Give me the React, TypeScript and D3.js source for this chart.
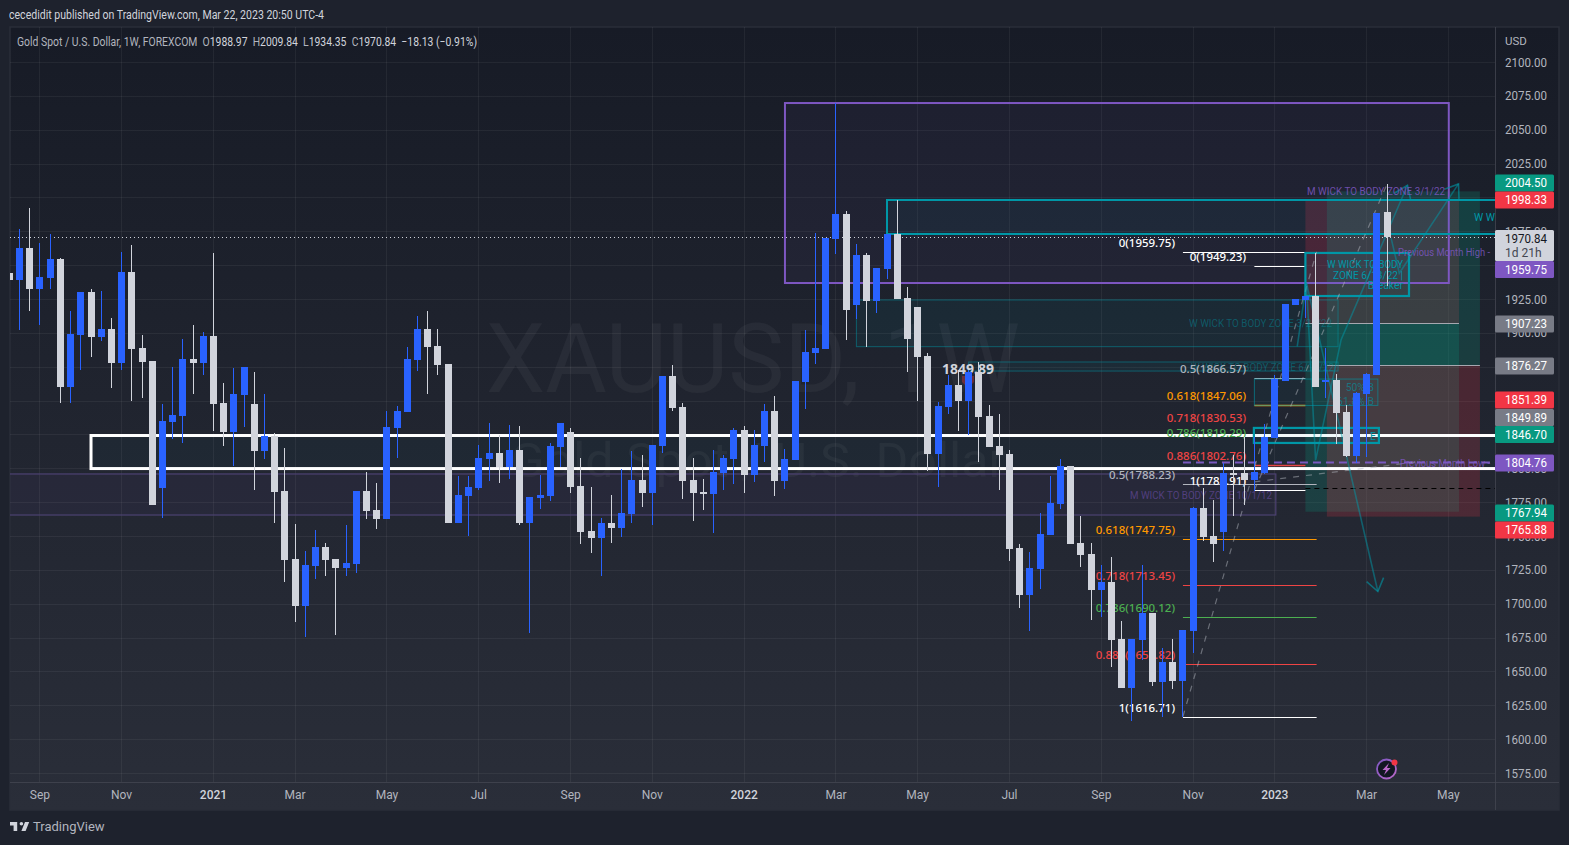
import React from "react";
import * as d3 from "d3";

const W = 1569, H = 845;
const FRAME = { l: 10, t: 27, r: 1559, b: 810 };
const PLOT = { l: 10, t: 27, r: 1495, b: 782 };
const FONT = "Roboto, 'Noto Sans', sans-serif";
const FIB_FONT = "'Noto Sans', Roboto, sans-serif";

// OHLC, one value per weekly bar; the first bar has index -1 and is cut by the left edge
const opens = [1944.0,1939.0,1962.7,1932.4,1940.5,1954.5,1860.0,1898.4,1930.2,1896.9,1902.9,1877.7,1944.9,1888.8,1879.2,1785.4,1834.2,1838.6,1880.7,1877.7,1897.7,1848.2,1826.8,1854.1,1847.5,1812.8,1823.8,1783.2,1733.0,1698.3,1727.9,1741.9,1733.0,1726.4,1729.3,1783.2,1769.2,1762.6,1829.8,1841.6,1880.0,1902.9,1890.3,1877.0,1759.6,1779.5,1785.4,1806.9,1811.3,1801.0,1813.5,1759.6,1778.1,1779.5,1815.7,1826.8,1786.9,1753.7,1748.5,1759.6,1755.9,1766.2,1791.4,1781.8,1816.5,1868.1,1845.3,1791.4,1782.5,1781.0,1796.5,1806.9,1828.3,1795.0,1816.5,1842.3,1790.6,1806.1,1863.7,1885.1,1888.1,1969.3,1987.8,1920.6,1957.5,1923.5,1947.2,1973.0,1925.7,1919.1,1882.9,1810.6,1845.3,1861.5,1849.7,1871.1,1838.6,1816.5,1810.6,1741.1,1706.4,1725.6,1750.7,1773.6,1801.7,1744.8,1736.7,1710.1,1716.0,1673.9,1637.8,1673.2,1693.1,1642.2,1657.0,1642.9,1679.9,1770.7,1750.0,1753.0,1796.5,1796.5,1791.3,1796.5,1822.4,1864.5,1920.6,1924.3,1927.2,1863.7,1865.2,1841.6,1809.1,1854.9,1868.9,1988.97];
const highs = [1944.0,1976.4,1992.2,1966.4,1973.0,1955.3,1916.1,1930.2,1932.4,1930.9,1911.0,1959.7,1964.9,1898.4,1879.2,1847.5,1874.8,1895.5,1905.8,1900.6,1959.0,1863.0,1874.1,1874.8,1871.1,1854.9,1826.1,1815.0,1758.9,1738.9,1754.4,1744.8,1733.0,1758.1,1783.2,1797.3,1789.1,1842.3,1846.0,1889.6,1912.5,1916.1,1902.9,1877.0,1794.3,1794.3,1817.2,1833.4,1824.6,1832.0,1831.2,1778.8,1795.0,1818.7,1833.4,1829.7,1807.6,1786.2,1763.3,1780.3,1799.5,1812.8,1809.8,1817.2,1868.1,1876.3,1848.2,1807.6,1792.1,1813.5,1809.8,1829.7,1831.2,1828.3,1847.5,1853.4,1814.2,1864.5,1902.1,1973.7,1970.0,2069.5,1990.0,1965.6,1959.0,1947.9,1973.0,1998.1,1933.9,1919.1,1885.1,1848.9,1868.9,1872.6,1872.6,1878.5,1846.7,1840.1,1813.5,1744.1,1738.2,1767.0,1794.3,1806.9,1801.7,1764.8,1744.8,1728.6,1734.5,1687.2,1673.9,1728.6,1693.1,1667.3,1673.9,1680.6,1771.4,1785.4,1776.6,1803.9,1809.8,1823.1,1823.1,1832.7,1868.9,1921.3,1925.0,1927.2,1959.0,1888.8,1869.6,1846.7,1856.3,1870.4,1988.5,2009.84];
const lows = [1939.0,1902.1,1916.1,1905.8,1932.4,1848.2,1848.2,1872.6,1882.2,1894.0,1859.3,1872.6,1849.7,1851.9,1772.9,1763.3,1821.6,1818.7,1854.9,1868.9,1827.5,1816.5,1801.7,1830.5,1784.0,1806.9,1759.6,1716.0,1686.5,1675.4,1718.3,1720.5,1676.9,1720.5,1722.7,1762.6,1755.2,1762.6,1807.6,1841.6,1871.8,1854.9,1868.9,1759.6,1759.6,1750.0,1784.0,1790.6,1789.1,1792.1,1758.1,1678.4,1769.9,1775.8,1801.0,1781.8,1744.1,1737.4,1720.4,1744.8,1749.3,1759.6,1771.4,1758.1,1811.3,1842.3,1777.3,1761.1,1769.2,1752.2,1784.0,1788.4,1781.8,1789.9,1804.6,1779.5,1784.7,1806.1,1843.8,1877.0,1888.1,1958.2,1894.7,1910.2,1889.6,1914.7,1939.8,1925.0,1871.1,1849.7,1798.0,1786.2,1840.1,1827.5,1824.6,1804.6,1815.7,1784.0,1731.5,1696.8,1679.9,1710.9,1750.7,1769.9,1744.1,1727.1,1688.0,1690.2,1653.3,1637.8,1613.4,1658.4,1639.2,1616.4,1637.0,1616.7,1663.6,1746.3,1730.8,1738.9,1764.8,1772.9,1783.2,1795.8,1822.4,1864.5,1920.6,1911.0,1860.0,1851.9,1817.9,1808.3,1803.9,1808.3,1868.9,1934.35];
const closes = [1939.0,1962.7,1932.4,1941.2,1954.5,1860.0,1899.2,1930.2,1896.9,1902.9,1877.7,1944.9,1888.1,1878.5,1772.9,1834.9,1839.4,1880.7,1877.7,1897.7,1847.5,1826.8,1854.9,1874.8,1812.8,1823.8,1782.5,1732.3,1698.3,1728.6,1741.9,1732.3,1726.4,1730.1,1783.2,1768.5,1762.6,1830.5,1842.3,1880.7,1902.9,1889.6,1876.3,1759.6,1780.3,1786.2,1807.6,1811.3,1801.0,1813.5,1759.6,1778.8,1780.3,1816.5,1833.4,1786.2,1753.0,1748.5,1759.6,1755.9,1767.0,1791.4,1781.8,1817.2,1868.1,1844.5,1790.6,1781.8,1781.0,1797.3,1807.6,1828.3,1795.0,1817.2,1842.3,1790.6,1806.9,1864.5,1885.9,1888.8,1970.0,1987.8,1916.9,1957.5,1923.5,1947.9,1973.0,1925.0,1895.5,1882.2,1810.6,1846.0,1861.5,1849.7,1871.1,1837.9,1815.7,1809.8,1740.4,1706.4,1726.4,1751.5,1774.4,1801.7,1744.1,1736.0,1710.1,1716.0,1673.2,1637.8,1673.9,1693.1,1642.2,1657.0,1642.9,1680.6,1770.7,1749.3,1744.1,1796.5,1795.0,1791.3,1797.3,1823.1,1865.9,1921.3,1925.0,1927.2,1860.0,1865.2,1840.8,1809.1,1855.6,1869.6,1988.5,1970.84];
const FIRST_BAR = -1;

const priceTicks = d3.range(1575, 2101, 25);
const timeTickBars = [2, 10, 19, 27, 36, 45, 54, 62, 71, 80, 88, 97, 106, 115, 123, 132, 140];
const timeTickLabels = ["Sep", "Nov", "2021", "Mar", "May", "Jul", "Sep", "Nov", "2022", "Mar", "May", "Jul", "Sep", "Nov", "2023", "Mar", "May"];

// Axis price tags, text and fill; their stacked positions live in tagCentres below
const tagTexts = ["2004.50", "1998.33", "1959.75", "1907.23", "1876.27", "1851.39", "1849.89", "1846.70", "1804.76", "1767.94", "1765.88"];
const tagColors = ["#089981", "#f23645", "#7e57c2", "#787b86", "#787b86", "#f23645", "#787b86", "#089981", "#7e57c2", "#089981", "#f23645"];
const tagCentres = [183, 200, 269.5, 324, 366, 400, 417.5, 434.5, 463, 513, 530];

// Zones: [bar0, bar1, priceTop, priceBottom]
const purpleZone = [75, 140.05, 2069.7, 1936.8];
const tealZone = [85, 150, 1998.1, 1973.0];
const thinZoneA = [82, 129.2, 1924.3, 1889.8];
const thinZoneB = [93, 129.2, 1878.5, 1871.8];
const fvgZoneB = [121, 133.1, 1865.9, 1846.4];
const fvgZoneE = [120.95, 133.2, 1829.8, 1818.7];
const breakerZone = [126, 136.15, 1959.0, 1927.2];
const whiteZone = [7, 150, 1824.2, 1799.8];
const lowPurpleZone = [-3, 123.1, 1795.8, 1765.5];

// Short position: bars, stop, entry, target. Long position: bars, target, entry, stop
const shortPos = [126, 141.05, 1998.33, 1907.23, 1767.94];
const longPos = [128.1, 143.1, 2004.5, 1876.27, 1764.3];

// Fibonacci tools
const fibLabelsA = ["0(1959.75)", "0.5(1788.23)", "0.618(1747.75)", "0.718(1713.45)", "0.786(1690.12)", "0.886(1655.82)", "1(1616.71)"];
const fibPricesA = [1959.75, 1788.23, 1747.75, 1713.45, 1690.12, 1655.82, 1616.71];
const fibLabelsB = ["0(1949.23)", "0.5(1866.57)", "0.618(1847.06)", "0.718(1830.53)", "0.786(1819.29)", "0.886(1802.76)", "1(1783.91)"];
const fibPricesB = [1949.23, 1866.57, 1847.06, 1830.53, 1819.29, 1802.76, 1783.91];
const fibColors = ["#ffffff", "#b2b5be", "#ff9800", "#ef4444", "#4caf50", "#ef4444", "#ffffff"];
const fibBarsA = [114, 127.1];
const fibBarsB = [121, 126];

// Trend lines as [bar, price] points
const dashA = [[114, 1616.71], [127.1, 1959.75]];
const dashB = [[121, 1783.91], [134, 2009.84]];
const dashC = [[121, 1790], [137, 1804.76]];
const pathA = [[125.2, 1890], [126.1, 1936.8], [127, 1806], [129.5, 1895], [136, 2009]];
const pathB = [[134.4, 1970], [135.2, 1944], [141, 2010]];
const pathC = [[126.1, 1936.8], [133.1, 1709]];

const logoPaths = ["M14 6H2v6h6v9h6V6zm14 15h-7l6-15h7l-6 15zm-7-9a3 3 0 1 0 0-6 3 3 0 0 0 0 6z"];

export default function App() {
  const xBar = d3.scaleLinear().domain([0, 134]).range([19.58, 1387.05]);
  const y = d3.scaleLinear().domain([2100, 1575]).range([62, 773]);
  const line = d3.line<number[]>().x((d) => xBar(d[0])).y((d) => y(d[1]));

  const zone = (z: number[], stroke: string, sw: number, fill: string, key: string) => (
    <rect key={key} x={xBar(z[0])} y={y(z[2])} width={xBar(z[1]) - xBar(z[0])} height={y(z[3]) - y(z[2])}
      fill={fill} stroke={stroke} strokeWidth={sw} />
  );
  const hLine = (b: number[], p: number, color: string, key: string, dash?: string, sw = 1) => (
    <line key={key} x1={xBar(b[0])} x2={xBar(b[1])} y1={Math.round(y(p)) + 0.5} y2={Math.round(y(p)) + 0.5}
      stroke={color} strokeWidth={sw} strokeDasharray={dash} />
  );
  // arrow head follows the direction of the path's last segment
  const chevron = (pts: number[][], key: string) => {
    const a = pts[pts.length - 2], b = pts[pts.length - 1];
    const px = xBar(b[0]), py = y(b[1]);
    const ang = Math.atan2(py - y(a[1]), px - xBar(a[0]));
    const arm = (s: number) => `${px - 15 * Math.cos(ang + s)} ${py - 15 * Math.sin(ang + s)}`;
    return (
      <path key={key} d={`M${arm(0.62)}L${px} ${py}L${arm(-0.62)}`}
        fill="none" stroke="#0097a7" strokeOpacity={0.6} strokeWidth={1.6} />
    );
  };

  return (
    <svg width={W} height={H} viewBox={`0 0 ${W} ${H}`} fontFamily={FONT}
      style={{ position: "absolute", left: 0, top: 0, display: "block" }}>
      <defs>
        <linearGradient id="bg" x1="0" y1="0" x2="0" y2="1">
          <stop offset="0" stopColor="#171b26" />
          <stop offset="1" stopColor="#2a2e39" />
        </linearGradient>
        <clipPath id="plot">
          <rect x={PLOT.l} y={PLOT.t} width={PLOT.r - PLOT.l} height={PLOT.b - PLOT.t} />
        </clipPath>
        <linearGradient id="bolt" x1="0" y1="0" x2="1" y2="1">
          <stop offset="0" stopColor="#7e57c2" />
          <stop offset="1" stopColor="#ba68c8" />
        </linearGradient>
      </defs>

      <rect width={W} height={H} fill="#1e222d" />
      <text x={9} y={19} fontSize={12} fill="#d1d4dc" textLength={315} lengthAdjust="spacingAndGlyphs">cecedidit published on TradingView.com, Mar 22, 2023 20:50 UTC-4</text>
      <rect x={FRAME.l} y={FRAME.t} width={FRAME.r - FRAME.l} height={FRAME.b - FRAME.t} fill="url(#bg)" stroke="#2a2e39" strokeWidth={1.5} />

      <g clipPath="url(#plot)">
        {/* grid */}
        {priceTicks.map((p) => (
          <line key={`h${p}`} x1={PLOT.l} x2={PLOT.r} y1={Math.round(y(p)) + 0.5} y2={Math.round(y(p)) + 0.5} stroke="#ffffff" strokeOpacity={0.055} />
        ))}
        {timeTickBars.map((b) => (
          <line key={`v${b}`} x1={Math.floor(xBar(b)) + 0.5} x2={Math.floor(xBar(b)) + 0.5} y1={PLOT.t} y2={PLOT.b} stroke="#ffffff" strokeOpacity={0.055} />
        ))}

        {/* watermark */}
        <text x={753} y={392} fontSize={96} textAnchor="middle" fill="#ffffff" fillOpacity={0.045} textLength={534} lengthAdjust="spacingAndGlyphs">XAUUSD, 1W</text>
        <text x={758} y={477} fontSize={48} textAnchor="middle" fill="#ffffff" fillOpacity={0.045} textLength={495} lengthAdjust="spacingAndGlyphs">Gold Spot / U.S. Dollar</text>

        {/* positions */}
        <rect x={xBar(shortPos[0])} y={y(shortPos[2])} width={xBar(shortPos[1]) - xBar(shortPos[0])} height={y(shortPos[3]) - y(shortPos[2])} fill="#f23645" fillOpacity={0.2} />
        <rect x={xBar(shortPos[0])} y={y(shortPos[3])} width={xBar(shortPos[1]) - xBar(shortPos[0])} height={y(shortPos[4]) - y(shortPos[3])} fill="#089981" fillOpacity={0.22} />
        <rect x={xBar(longPos[0])} y={y(longPos[2])} width={xBar(longPos[1]) - xBar(longPos[0])} height={y(longPos[3]) - y(longPos[2])} fill="#089981" fillOpacity={0.22} />
        <rect x={xBar(longPos[0])} y={y(longPos[3])} width={xBar(longPos[1]) - xBar(longPos[0])} height={y(longPos[4]) - y(longPos[3])} fill="#f23645" fillOpacity={0.2} />
        {hLine([shortPos[0], shortPos[1]], shortPos[3], "#a6a8b0", "entryS", undefined, 1)}
        {hLine([longPos[0], longPos[1]], longPos[3], "#a6a8b0", "entryL", undefined, 1)}

        {/* zones */}
        {zone(lowPurpleZone, "#4d4272", 1.2, "rgba(126,87,194,0.06)", "lp")}
        {zone(purpleZone, "#7e57c2", 2, "rgba(126,87,194,0.06)", "pz")}
        {zone(thinZoneA, "rgba(0,151,167,0.5)", 1, "rgba(0,151,167,0.07)", "ta")}
        {zone(thinZoneB, "rgba(0,151,167,0.5)", 1, "rgba(0,151,167,0.07)", "tb")}

        {/* previous month lines and dashed rays */}
        {hLine([114, 150], 1804.76, "#7e57c2", "pml", "8 5", 2)}
        {hLine([121, 150], 1824.0, "#000000", "bd1", "5 4", 1)}
        {hLine([126, 150], 1785.6, "#000000", "bd2", "5 4", 1)}

        {/* Fibonacci lines */}
        {fibPricesA.map((p, i) => hLine(fibBarsA, p, fibColors[i], `fa${i}`))}
        {fibPricesB.map((p, i) => (i === 0 ? hLine(fibBarsB, p, fibColors[i], `fb${i}`) : hLine(fibBarsB, p, fibColors[i], `fb${i}`, undefined, i === 2 || i === 5 ? 1.5 : 1)))}

        {/* white support band */}
        {zone(whiteZone, "#ffffff", 3, "rgba(0,151,167,0.03)", "wz")}

        {zone(tealZone, "#0097a7", 2, "rgba(0,151,167,0.05)", "tz")}
        {zone(fvgZoneB, "rgba(0,151,167,0.6)", 1, "rgba(0,151,167,0.05)", "zb")}
        {zone(fvgZoneE, "#0097a7", 2.2, "rgba(0,151,167,0.05)", "ze")}
        {zone(breakerZone, "#0097a7", 2.2, "rgba(0,151,167,0.05)", "bz")}

        {/* dashed fib trend lines */}
        {[dashA, dashB, dashC].map((d, i) => (
          <path key={`d${i}`} d={line(d) || ""} fill="none" stroke="#b2b5be" strokeOpacity={0.5} strokeWidth={1.2} strokeDasharray="6 7" />
        ))}
        {/* scenario arrows */}
        {[pathA, pathB, pathC].map((d, i) => (
          <path key={`p${i}`} d={line(d) || ""} fill="none" stroke="#0097a7" strokeOpacity={0.5} strokeWidth={1.6} />
        ))}
        {chevron(pathA, "ca")}
        {chevron(pathB, "cb")}
        {chevron(pathC, "cc")}

        {/* drawing labels */}
        <g fontSize={10.4}>
          <text x={1445} y={195} textAnchor="end" fill="#7e57c2" fillOpacity={0.85} textLength={138} lengthAdjust="spacingAndGlyphs">M WICK TO BODY ZONE 3/1/22</text>
          <text x={1474} y={221} fill="#0097a7">W WICK TO BODY</text>
          <text x={1398} y={256} fill="#7e57c2" fillOpacity={0.85} textLength={92} lengthAdjust="spacingAndGlyphs">Previous Month High -</text>
          <text x={1400} y={467} fill="#7e57c2" fillOpacity={0.85} textLength={90} lengthAdjust="spacingAndGlyphs">Previous Month Low -</text>
          <g textAnchor="end" fill="#0097a7">
            <text x={1403} y={268} textLength={76} lengthAdjust="spacingAndGlyphs">W WICK TO BODY</text>
            <text x={1403} y={278.5} textLength={70} lengthAdjust="spacingAndGlyphs">ZONE 6/13/22 |</text>
            <text x={1403} y={289}>Breaker</text>
          </g>
          <text x={1332} y={327} textAnchor="end" fill="#0097a7" fillOpacity={0.45} textLength={143} lengthAdjust="spacingAndGlyphs">W WICK TO BODY ZONE 3/21/22</text>
          <text x={1334} y={371} textAnchor="end" fill="#0097a7" fillOpacity={0.45} textLength={143} lengthAdjust="spacingAndGlyphs">W WICK TO BODY ZONE 6/13/22</text>
          <text x={1374} y={391} textAnchor="end" fill="#0097a7" fillOpacity={0.6}>50% B</text>
          <text x={1374} y={405} textAnchor="end" fill="#0097a7" fillOpacity={0.6}>61.8% B</text>
          <text x={1376} y={440} textAnchor="end" fill="#0097a7">E</text>
          <text x={1272} y={499} textAnchor="end" fill="#7e57c2" fillOpacity={0.5} textLength={142} lengthAdjust="spacingAndGlyphs">M WICK TO BODY ZONE 10/1/12</text>
        </g>

        <g fontSize={11.5} fontWeight={500} textAnchor="end" fontFamily={FIB_FONT}>
          {fibLabelsA.map((t, i) => (
            <text key={t} x={1175} y={Math.round(y(fibPricesA[i])) - 5.5} fill={fibColors[i]}>{t}</text>
          ))}
          {fibLabelsB.map((t, i) => (
            <text key={t} x={1246} y={Math.round(y(fibPricesB[i])) - 5} fill={fibColors[i]}>{t}</text>
          ))}
        </g>

        <path d="M962 376h12v6l-6 6l-6 -6z" fill="#f23645" fillOpacity={0.35} />
        <text x={968} y={374} textAnchor="middle" fontSize={14} fontWeight={700} fontFamily={FIB_FONT} fill="#d1d4dc">1849.89</text>

        {/* last price */}
        <line x1={PLOT.l} x2={PLOT.r} y1={Math.round(y(closes[closes.length - 1])) + 0.5} y2={Math.round(y(closes[closes.length - 1])) + 0.5}
          stroke="#d1d4dc" strokeDasharray="1 3" />

        {/* candles */}
        {closes.map((c, k) => {
          const o = opens[k];
          const bar = k + FIRST_BAR;
          const cx = Math.floor(xBar(bar));
          const up = c >= o;
          const color = up ? "#2962ff" : "#d1d4dc";
          const top = Math.round(y(Math.max(o, c)));
          const bot = Math.max(top + 1, Math.round(y(Math.min(o, c))));
          const hi = Math.round(y(highs[k]));
          const lo = Math.round(y(lows[k]));
          return (
            <g key={k} fill={color}>
              <rect x={cx} y={hi} width={1} height={Math.max(0, lo - hi)} />
              <rect x={cx - 3} y={top} width={7} height={bot - top} />
            </g>
          );
        })}
      </g>

      {/* legend */}
      <text x={17} y={46} fontSize={12} fill="#b2b5be" xmlSpace="preserve" textLength={460} lengthAdjust="spacingAndGlyphs">
        Gold Spot / U.S. Dollar, 1W, FOREXCOM{"  "}O<tspan fill="#d1d4dc">1988.97</tspan>{"  "}H<tspan fill="#d1d4dc">2009.84</tspan>{"  "}L<tspan fill="#d1d4dc">1934.35</tspan>{"  "}C<tspan fill="#d1d4dc">1970.84</tspan>{"  "}<tspan fill="#d1d4dc">−18.13 (−0.91%)</tspan>
      </text>

      {/* axes */}
      <line x1={PLOT.r + 0.5} x2={PLOT.r + 0.5} y1={FRAME.t} y2={FRAME.b} stroke="#434651" strokeOpacity={0.8} />
      <line x1={FRAME.l} x2={FRAME.r} y1={PLOT.b + 0.5} y2={PLOT.b + 0.5} stroke="#434651" strokeOpacity={0.8} />
      <text x={1505} y={45} fontSize={11.5} fill="#b2b5be">USD</text>
      {priceTicks.map((p) => (
        <text key={p} x={1505} y={y(p) + 4.5} fontSize={12} fill="#b2b5be" textLength={42} lengthAdjust="spacingAndGlyphs">{p.toFixed(2)}</text>
      ))}
      {timeTickBars.map((b, i) => {
        const label = timeTickLabels[i];
        const isYear = /^\d/.test(label);
        return (
          <text key={b} x={xBar(b)} y={799} fontSize={12} textAnchor="middle" fill={isYear ? "#d1d4dc" : "#b2b5be"} fontWeight={isYear ? 500 : 400}>{label}</text>
        );
      })}

      {/* axis tags */}
      {tagTexts.map((t, i) => (
        <g key={t}>
          <rect x={1495} y={tagCentres[i] - 8.5} width={59} height={17} rx={1.5} fill={tagColors[i]} />
          <text x={1505} y={tagCentres[i] + 4.3} fontSize={12} fill="#ffffff" textLength={42} lengthAdjust="spacingAndGlyphs">{t}</text>
        </g>
      ))}
      <rect x={1495} y={230} width={59} height={31} rx={1.5} fill="#d1d4dc" />
      <text x={1505} y={242.5} fontSize={12} fill="#131722" textLength={42} lengthAdjust="spacingAndGlyphs">1970.84</text>
      <text x={1505} y={257} fontSize={12} fill="#434651">1d 21h</text>

      {/* flash icon */}
      <circle cx={1386.5} cy={769} r={9.5} fill="#131722" stroke="url(#bolt)" strokeWidth={1.8} />
      <path d="M1389 763l-6.5 7h3.5l-2 5l6.5 -7h-3.5z" fill="#ba68c8" />
      <circle cx={1394.5} cy={762.5} r={3} fill="#f23645" />

      {/* brand */}
      <path d={logoPaths[0]} fill="#d1d4dc" transform="translate(8.8 818.4) scale(0.6)" />
      <text x={33} y={831} fontSize={13} fill="#b2b5be">TradingView</text>
    </svg>
  );
}
